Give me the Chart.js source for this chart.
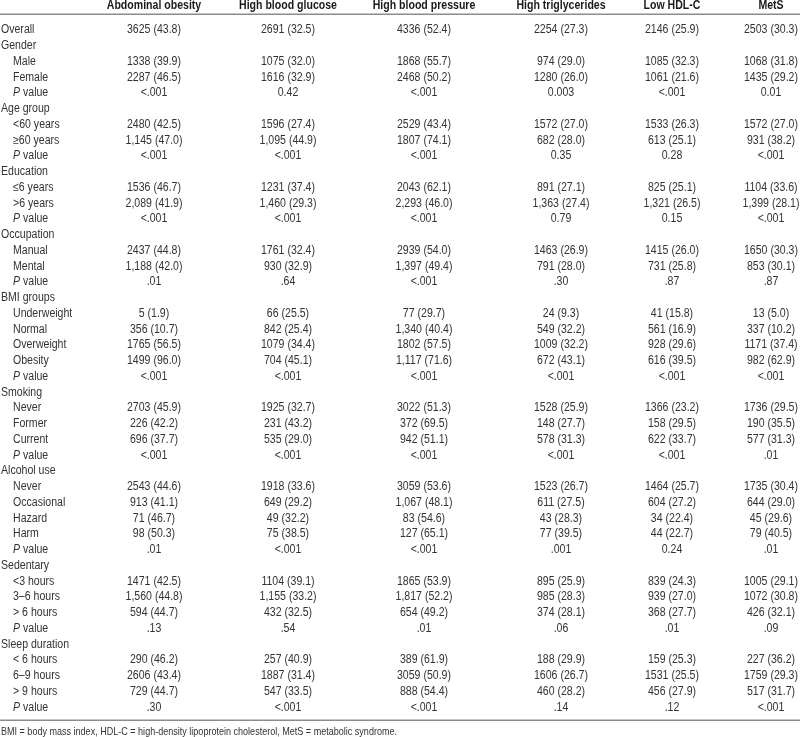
<!DOCTYPE html>
<html>
<head>
<meta charset="utf-8">
<script src="https://cdn.jsdelivr.net/npm/chart.js@4.4.1/dist/chart.umd.min.js"></script>
<style>
  html, body { margin: 0; padding: 0; background: #fff; }
  #wrap { width: 800px; height: 737px; position: relative; }
</style>
</head>
<body>
<div id="wrap"><canvas id="tbl"></canvas></div>
<script>
// Prevalence table drawn as a Chart.js scatter: every cell is an invisible point
// placed by the x/y scales, and a small plugin writes its text there.

const columns = ['Abdominal obesity', 'High blood glucose', 'High blood pressure', 'High triglycerides', 'Low HDL-C', 'MetS'];

// group rows have no values; 'P value' rows get an italic P
const rowLabels = [
  'Overall',
  'Gender', 'Male', 'Female', 'P value',
  'Age group', '<60 years', '≥60 years', 'P value',
  'Education', '≤6 years', '>6 years', 'P value',
  'Occupation', 'Manual', 'Mental', 'P value',
  'BMI groups', 'Underweight', 'Normal', 'Overweight', 'Obesity', 'P value',
  'Smoking', 'Never', 'Former', 'Current', 'P value',
  'Alcohol use', 'Never', 'Occasional', 'Hazard', 'Harm', 'P value',
  'Sedentary', '<3 hours', '3–6 hours', '> 6 hours', 'P value',
  'Sleep duration', '< 6 hours', '6–9 hours', '> 9 hours', 'P value',
];
const groupRows = ['Overall', 'Gender', 'Age group', 'Education', 'Occupation', 'BMI groups', 'Smoking', 'Alcohol use', 'Sedentary', 'Sleep duration'];

const abdominalObesity = [
  '3625 (43.8)',
  '', '1338 (39.9)', '2287 (46.5)', '<.001',
  '', '2480 (42.5)', '1,145 (47.0)', '<.001',
  '', '1536 (46.7)', '2,089 (41.9)', '<.001',
  '', '2437 (44.8)', '1,188 (42.0)', '.01',
  '', '5 (1.9)', '356 (10.7)', '1765 (56.5)', '1499 (96.0)', '<.001',
  '', '2703 (45.9)', '226 (42.2)', '696 (37.7)', '<.001',
  '', '2543 (44.6)', '913 (41.1)', '71 (46.7)', '98 (50.3)', '.01',
  '', '1471 (42.5)', '1,560 (44.8)', '594 (44.7)', '.13',
  '', '290 (46.2)', '2606 (43.4)', '729 (44.7)', '.30',
];
const highGlucose = [
  '2691 (32.5)',
  '', '1075 (32.0)', '1616 (32.9)', '0.42',
  '', '1596 (27.4)', '1,095 (44.9)', '<.001',
  '', '1231 (37.4)', '1,460 (29.3)', '<.001',
  '', '1761 (32.4)', '930 (32.9)', '.64',
  '', '66 (25.5)', '842 (25.4)', '1079 (34.4)', '704 (45.1)', '<.001',
  '', '1925 (32.7)', '231 (43.2)', '535 (29.0)', '<.001',
  '', '1918 (33.6)', '649 (29.2)', '49 (32.2)', '75 (38.5)', '<.001',
  '', '1104 (39.1)', '1,155 (33.2)', '432 (32.5)', '.54',
  '', '257 (40.9)', '1887 (31.4)', '547 (33.5)', '<.001',
];
const highPressure = [
  '4336 (52.4)',
  '', '1868 (55.7)', '2468 (50.2)', '<.001',
  '', '2529 (43.4)', '1807 (74.1)', '<.001',
  '', '2043 (62.1)', '2,293 (46.0)', '<.001',
  '', '2939 (54.0)', '1,397 (49.4)', '<.001',
  '', '77 (29.7)', '1,340 (40.4)', '1802 (57.5)', '1,117 (71.6)', '<.001',
  '', '3022 (51.3)', '372 (69.5)', '942 (51.1)', '<.001',
  '', '3059 (53.6)', '1,067 (48.1)', '83 (54.6)', '127 (65.1)', '<.001',
  '', '1865 (53.9)', '1,817 (52.2)', '654 (49.2)', '.01',
  '', '389 (61.9)', '3059 (50.9)', '888 (54.4)', '<.001',
];
const highTriglycerides = [
  '2254 (27.3)',
  '', '974 (29.0)', '1280 (26.0)', '0.003',
  '', '1572 (27.0)', '682 (28.0)', '0.35',
  '', '891 (27.1)', '1,363 (27.4)', '0.79',
  '', '1463 (26.9)', '791 (28.0)', '.30',
  '', '24 (9.3)', '549 (32.2)', '1009 (32.2)', '672 (43.1)', '<.001',
  '', '1528 (25.9)', '148 (27.7)', '578 (31.3)', '<.001',
  '', '1523 (26.7)', '611 (27.5)', '43 (28.3)', '77 (39.5)', '.001',
  '', '895 (25.9)', '985 (28.3)', '374 (28.1)', '.06',
  '', '188 (29.9)', '1606 (26.7)', '460 (28.2)', '.14',
];
const lowHdl = [
  '2146 (25.9)',
  '', '1085 (32.3)', '1061 (21.6)', '<.001',
  '', '1533 (26.3)', '613 (25.1)', '0.28',
  '', '825 (25.1)', '1,321 (26.5)', '0.15',
  '', '1415 (26.0)', '731 (25.8)', '.87',
  '', '41 (15.8)', '561 (16.9)', '928 (29.6)', '616 (39.5)', '<.001',
  '', '1366 (23.2)', '158 (29.5)', '622 (33.7)', '<.001',
  '', '1464 (25.7)', '604 (27.2)', '34 (22.4)', '44 (22.7)', '0.24',
  '', '839 (24.3)', '939 (27.0)', '368 (27.7)', '.01',
  '', '159 (25.3)', '1531 (25.5)', '456 (27.9)', '.12',
];
const metS = [
  '2503 (30.3)',
  '', '1068 (31.8)', '1435 (29.2)', '0.01',
  '', '1572 (27.0)', '931 (38.2)', '<.001',
  '', '1104 (33.6)', '1,399 (28.1)', '<.001',
  '', '1650 (30.3)', '853 (30.1)', '.87',
  '', '13 (5.0)', '337 (10.2)', '1171 (37.4)', '982 (62.9)', '<.001',
  '', '1736 (29.5)', '190 (35.5)', '577 (31.3)', '.01',
  '', '1735 (30.4)', '644 (29.0)', '45 (29.6)', '79 (40.5)', '.01',
  '', '1005 (29.1)', '1072 (30.8)', '426 (32.1)', '.09',
  '', '227 (36.2)', '1759 (29.3)', '517 (31.7)', '<.001',
];
const footnote = 'BMI = body mass index, HDL-C = high-density lipoprotein cholesterol, MetS = metabolic syndrome.';

const columnValues = [abdominalObesity, highGlucose, highPressure, highTriglycerides, lowHdl, metS];

// layout (scale units: x in px, y in row steps)
const COL_X = [154, 288, 424, 561, 672, 771];
const LABEL_X = 1, INDENT_X = 13;
const HEADER_Y = -1.543, HEADER_RULE_Y = -1.244, BOTTOM_RULE_Y = 43.57, NOTE_Y = 44.58;
const Y_MIN = -2.114, Y_MAX = 44.68;

// the source uses a condensed face: squeeze Liberation Sans horizontally
const FONT = "'Liberation Sans', Arial, sans-serif";
const SQUEEZE = 0.88;
const TEXT = '#333';

const labelPoints = rowLabels.map((t, i) => ({ x: groupRows.includes(t) ? LABEL_X : INDENT_X, y: i, text: t }));
const headerPoints = columns.map((t, c) => ({ x: COL_X[c], y: HEADER_Y, text: t }));

const datasets = [
  { label: 'rows', data: labelPoints, align: 'left', font: `12px ${FONT}` },
  { label: 'header', data: headerPoints, align: 'center', font: `bold 12px ${FONT}`, color: '#1a1a1a' },
  { label: 'note', data: [{ x: LABEL_X, y: NOTE_Y, text: footnote }], align: 'left', font: `11px ${FONT}`, maxWidth: 398 / SQUEEZE * 0.995 },
  ...columns.map((name, c) => ({
    label: name,
    data: columnValues[c].map((v, i) => ({ x: COL_X[c], y: i, text: v })).filter(p => p.text),
    align: 'center',
    font: `12px ${FONT}`,
  })),
];

function squeezed(ctx, text, px, py, maxWidth) {
  ctx.save();
  ctx.translate(px, py);
  ctx.scale(SQUEEZE, 1);
  if (maxWidth) ctx.fillText(text, 0, 0, maxWidth);
  else ctx.fillText(text, 0, 0);
  ctx.restore();
}

const tableText = {
  id: 'tableText',
  afterDatasetsDraw(chart) {
    const { ctx, scales: { x, y } } = chart;
    ctx.save();
    ctx.strokeStyle = '#8c8c8c';
    ctx.lineWidth = 1.5;
    [HEADER_RULE_Y, BOTTOM_RULE_Y].forEach(v => {
      const py = Math.round(y.getPixelForValue(v)) + 0.25;
      ctx.beginPath();
      ctx.moveTo(x.getPixelForValue(0), py);
      ctx.lineTo(x.getPixelForValue(800), py);
      ctx.stroke();
    });

    ctx.textBaseline = 'alphabetic';
    chart.data.datasets.forEach((ds, di) => {
      const meta = chart.getDatasetMeta(di);
      ctx.fillStyle = ds.color || TEXT;
      meta.data.forEach((pt, i) => {
        const text = ds.data[i].text;
        if (text === 'P value') {
          ctx.textAlign = 'left';
          ctx.font = `italic ${ds.font}`;
          squeezed(ctx, 'P', pt.x, pt.y);
          const w = ctx.measureText('P').width * SQUEEZE;
          ctx.font = ds.font;
          squeezed(ctx, ' value', pt.x + w, pt.y);
          return;
        }
        ctx.font = ds.font;
        ctx.textAlign = ds.align;
        squeezed(ctx, text, pt.x, pt.y, ds.maxWidth);
      });
    });
    ctx.restore();
  },
};

new Chart(document.getElementById('tbl'), {
  type: 'scatter',
  data: { datasets },
  options: {
    responsive: true,
    maintainAspectRatio: false,
    animation: false,
    layout: { padding: 0 },
    elements: { point: { radius: 0, hoverRadius: 0 } },
    plugins: { legend: { display: false }, tooltip: { enabled: false } },
    scales: {
      x: { type: 'linear', min: 0, max: 800, display: false },
      y: { type: 'linear', min: Y_MIN, max: Y_MAX, reverse: true, display: false },
    },
  },
  plugins: [tableText],
});
</script>
</body>
</html>
